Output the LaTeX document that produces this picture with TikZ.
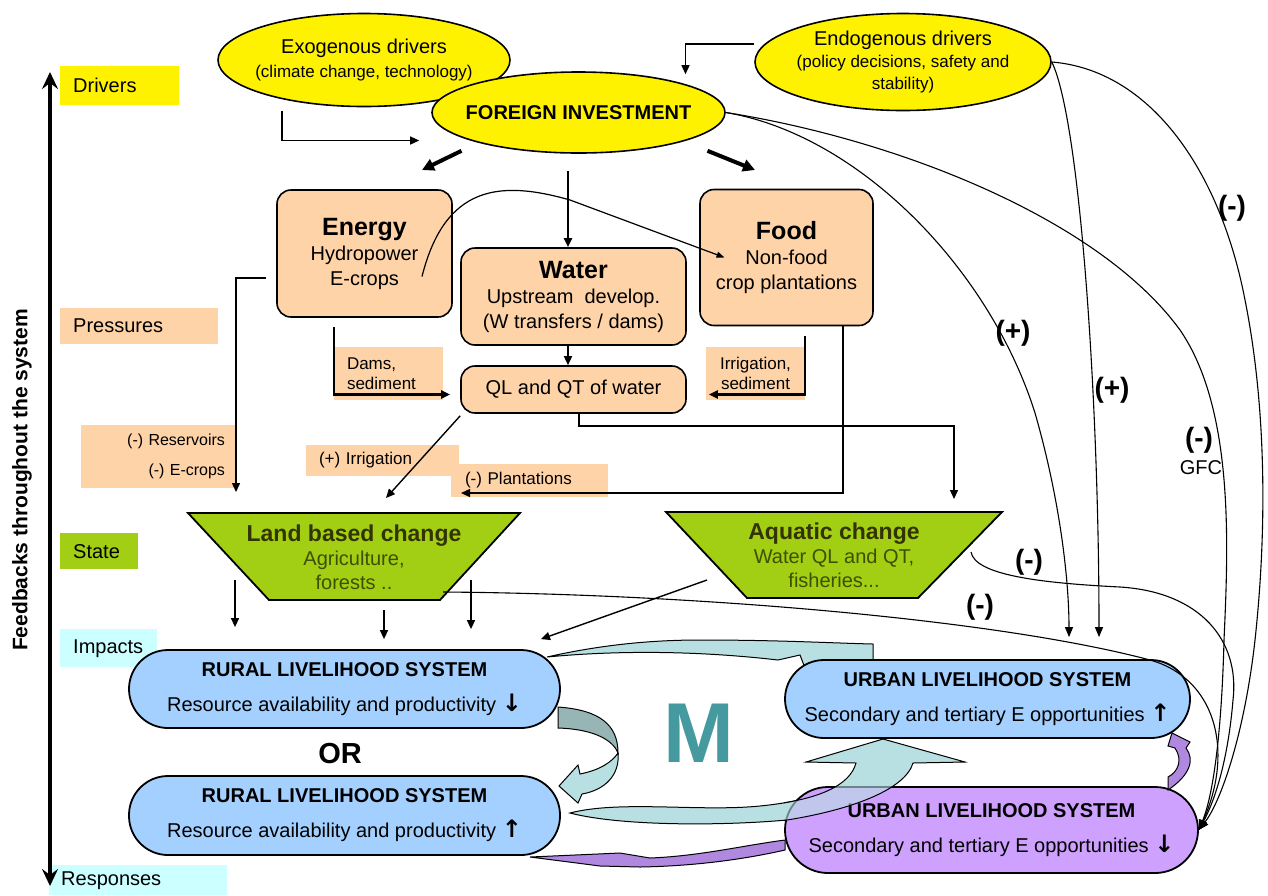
\documentclass[tikz,border=0pt]{standalone}
\usepackage{fontspec}
\setmainfont{Liberation Sans}
\newfontfamily\arrowfnt{DejaVu Sans}
\usetikzlibrary{shapes.geometric,arrows.meta}

\definecolor{peach}{HTML}{FFD3A8}
\definecolor{grass}{HTML}{A2CF14}
\definecolor{skyblue}{HTML}{A3D0FF}
\definecolor{lilac}{HTML}{CFA1FF}
\definecolor{paleteal}{HTML}{B8DFE1}
\definecolor{greyteal}{HTML}{97B5B5}
\definecolor{mteal}{HTML}{449A9E}
\definecolor{plum}{HTML}{B088E0}
\definecolor{paleaqua}{HTML}{CCFFFF}
\definecolor{darkolive}{HTML}{333300}
\definecolor{mossy}{HTML}{3D4F00}

\newcommand{\txtsize}[2]{\fontsize{#1}{#2}\selectfont}
\newcommand{\updown}[1]{{\arrowfnt\bfseries\txtsize{24}{24}#1}}
% outline of the big migration arrow (rural -> urban), used twice
\newcommand{\migpath}{(570,813) .. controls (620,800) and (700,812) .. (760,806)
  .. controls (820,800) and (850,785) .. (856,763) -- (806,762) -- (883,739)
  -- (965,762) -- (913,763) .. controls (905,790) and (850,810) .. (787,820)
  .. controls (720,826) and (620,826) .. (570,813) -- cycle}

\tikzset{
  lvl/.style={anchor=north west, inner xsep=13pt, inner ysep=0pt, align=left, font=\txtsize{20}{24}},
  drv/.style={ellipse, draw, line width=1.6pt, fill=yellow, inner xsep=-30pt, inner ysep=-10pt, align=center},
  pbox/.style={draw, line width=1.6pt, rounded corners=14pt, fill=peach, inner sep=0pt, align=center, font=\txtsize{20}{25}},
  tag/.style={fill=peach, inner xsep=13pt, inner ysep=0pt, font=\txtsize{17}{20}},
  chg/.style={draw, line width=1.8pt, fill=grass, line join=miter},
  chgtxt/.style={align=center, inner sep=0pt, text=mossy, font=\txtsize{20}{24}},
  pill/.style={draw, line width=1.8pt, align=center, inner sep=0pt, font=\txtsize{20}{35}},
  arr/.style={-{Triangle[length=9pt,width=8pt]}, line width=1.4pt},
  thk/.style={-{Triangle[length=12pt,width=12pt]}, line width=4pt},
  fbk/.style={-{Triangle[length=10pt,width=8pt]}, line width=1.1pt},
  blk/.style={draw, line width=1pt},
  sgn/.style={font=\bfseries\txtsize{28}{30}}
}

\begin{document}
\begin{tikzpicture}[x=1pt,y=-1pt]
\useasboundingbox (0,0) rectangle (1268,895);

% level tags down the left side
\node[lvl, fill=yellow, minimum height=39pt, text width=93pt] (drivers) at (60,66) {Drivers};
\node[lvl, fill=peach, minimum height=36pt, text width=132pt] (pressures) at (60,308) {Pressures};
\node[lvl, fill=grass, minimum height=36pt, text width=52pt] (state) at (60,533) {State};
\node[lvl, fill=paleaqua, minimum height=38pt, text width=71pt] (impacts) at (60,629) {Impacts};
\node[lvl, fill=paleaqua, minimum height=30pt, text width=154pt, inner xsep=12pt] (responses) at (49,865) {Responses};

% feedback axis
\coordinate (fbtop) at (50,72);
\coordinate (fbbot) at (50,886);
\draw[line width=4pt, {Stealth[length=17pt,width=16pt,inset=6pt]}-{Stealth[length=17pt,width=16pt,inset=6pt]}] (fbtop) -- (fbbot);
\node[rotate=90, font=\bfseries\txtsize{21}{24}] (fbtxt) at (22,480) {Feedbacks throughout the system};

% drivers
\node[drv, minimum width=292pt, minimum height=93pt, font=\txtsize{17}{24}] (exo) at (364,60)
  {{\txtsize{20}{24}Exogenous drivers}\\(climate change, technology)};
\node[drv, minimum width=296pt, minimum height=97pt, font=\txtsize{17}{22}] (endo) at (903,62)
  {{\txtsize{20}{22}Endogenous drivers}\\(policy decisions, safety and\\stability)};
\node[drv, minimum width=293pt, minimum height=81pt, font=\bfseries\txtsize{20}{24}] (fi) at (578.5,112.5) {FOREIGN INVESTMENT};

% pressures
\node[pbox, minimum width=175pt, minimum height=127pt] (energy) at (364.5,253.5)
  {{\bfseries\txtsize{25}{25}Energy}\\Hydropower\\E-crops};
\node[pbox, minimum width=225pt, minimum height=97pt] (water) at (573.5,296.5)
  {{\bfseries\txtsize{25}{25}Water}\\Upstream\ \ develop.\\(W transfers / dams)};
\node[pbox, minimum width=173pt, minimum height=136pt] (food) at (786.5,257.5)
  {{\bfseries\txtsize{25}{25}Food}\\Non-food\\crop plantations};
\node[pbox, minimum width=225pt, minimum height=47pt] (ql) at (573.5,389.5) {QL and QT of water};

% small pressure tags
\node[tag, minimum width=109pt, minimum height=53pt, text width=83pt, align=left] (dams) at (388.5,373.5) {Dams,\\sediment};
\node[tag, minimum width=99pt, minimum height=53pt, align=center] (irrsed) at (755.5,373.5) {Irrigation,\\sediment};
\node[tag, minimum width=154pt, minimum height=63pt, text width=134pt, inner xsep=10pt, align=right, font=\txtsize{16}{30}] (reserv) at (158,456.5) {(-) Reservoirs\\(-) E-crops};
\node[tag, minimum width=153pt, minimum height=31pt, text width=127pt, align=left] (irrig) at (382.5,460.5) {(+) Irrigation};
\node[tag, minimum width=157pt, minimum height=33pt, text width=129pt, inner xsep=14pt, align=left] (plant) at (529.5,480.5) {(-) Plantations};

% state: funnel shapes, text nodes carry the names
\draw[chg] (188,513) -- (520,513) -- (440,600) -- (269,600) -- cycle;
\node[chgtxt] (land) at (354,557)
  {{\bfseries\txtsize{23}{24}\color{darkolive}Land based change}\\Agriculture,\\forests ..};
\draw[chg] (666,512) -- (1002,512) -- (918,598) -- (747,598) -- cycle;
\node[chgtxt] (aquatic) at (834,555)
  {{\bfseries\txtsize{23}{24}\color{darkolive}Aquatic change}\\Water QL and QT,\\fisheries...};

% connectors between drivers and pressures
\coordinate (toenergy) at (422,170);
\coordinate (tofood) at (755,170);
\draw[arr] ([xshift=-82pt,yshift=-4pt]exo.south) |- ([xshift=-12pt,yshift=-28pt]fi.west);
\draw[arr] ([yshift=18pt]endo.west) -| ([xshift=107pt,yshift=-3pt]fi.north);
\draw[thk] ([xshift=-117pt,yshift=3pt]fi.south) -- (toenergy);
\draw[thk] ([xshift=129pt,yshift=3pt]fi.south) -- (tofood);
\draw[arr, line width=2.2pt] ([xshift=-10.5pt,yshift=-17pt]fi.south) -- ([xshift=-5.5pt]water.north);
\draw[-{Triangle[length=8pt,width=6pt]}, line width=1.2pt] ([xshift=57.5pt,yshift=-23pt]energy.center)
  .. controls (445,185) and (500,180) .. (570,200) -- ([xshift=-62pt]food.center);

% pressures to water quality and to the state
\coordinate (enland) at (236,492);
\coordinate (qlland) at (386,498);
\coordinate (qlaq) at (954,499);
\coordinate (plantin) at (461,493);
\draw[arr] ([xshift=-5.5pt]water.south) -- ([xshift=-5.5pt]ql.north);
\draw[arr, line width=2.2pt] ([xshift=-30.5pt,yshift=-9pt]energy.south) |- ([xshift=-10pt,yshift=-5pt]ql.west);
\draw[arr, line width=2.2pt] ([xshift=18.5pt,yshift=-10pt]food.south) |- ([xshift=22pt,yshift=-5pt]ql.east);
\draw[arr] ([xshift=-10pt,yshift=-24.5pt]energy.west) -| (enland);
\draw[arr] ([yshift=-2pt]ql.south west) -- (qlland);
\draw[arr] ([xshift=5.5pt]ql.south) -- ++(0,12) -| (qlaq);
\draw[arr] ([xshift=56.5pt]food.south) |- (plantin);

% migration arrows behind the livelihood systems
\draw[blk, fill=greyteal] (558,707) .. controls (600,710) and (618,725) .. (618,753)
  .. controls (612,738) and (590,729) .. (558,728) -- cycle;
\draw[blk, fill=paleteal] (618,753) .. controls (620,775) and (605,790) .. (582,794) -- (578,803)
  -- (559,786) -- (578,765) -- (580,774) .. controls (600,770) and (612,762) .. (618,753) -- cycle;
\draw[blk, fill=plum] (785,840) .. controls (740,846) and (700,856) .. (650,858) -- (620,853)
  -- (530,857) -- (600,866) -- (640,867) .. controls (700,866) and (750,858) .. (785,850) -- cycle;
\draw[blk, fill=paleteal] \migpath;
\draw[blk, fill=paleteal] (547,657) .. controls (600,645) and (650,640) .. (700,640)
  .. controls (780,640) and (830,643) .. (873,644) -- (873,672) -- (805,668) -- (800,655)
  -- (778,660) .. controls (700,651) and (620,650) .. (547,657) -- cycle;

% livelihood systems
\node[pill, fill=skyblue, rounded corners=39pt, minimum width=431pt, minimum height=78pt] (rural1) at (344.5,689)
  {{\bfseries RURAL LIVELIHOOD SYSTEM}\\Resource availability and productivity \updown{↓}};
\node[pill, fill=skyblue, rounded corners=39pt, minimum width=431pt, minimum height=79pt] (rural2) at (344.5,815.5)
  {{\bfseries RURAL LIVELIHOOD SYSTEM}\\Resource availability and productivity \updown{↑}};
\node[pill, fill=lilac, rounded corners=43pt, minimum width=413pt, minimum height=86pt] (urban2) at (991.5,830)
  {{\bfseries URBAN LIVELIHOOD SYSTEM}\\Secondary and tertiary E opportunities \updown{↓}};
\begin{scope}
  \clip (urban2.north west) rectangle (urban2.south east);
  \fill[paleteal, fill opacity=0.6] \migpath;
  \draw[line width=1pt] \migpath;
\end{scope}
\node[pill, fill=skyblue, rounded corners=39pt, minimum width=405pt, minimum height=78pt] (urban1) at (987.5,699)
  {{\bfseries URBAN LIVELIHOOD SYSTEM}\\Secondary and tertiary E opportunities \updown{↑}};
\draw[blk, fill=plum] (1168,790) .. controls (1190,775) and (1195,760) .. (1186,748) -- (1190,742)
  -- (1172,733) -- (1168,746) -- (1175,748) .. controls (1183,760) and (1178,772) .. (1168,777) -- cycle;

\node[font=\bfseries\txtsize{29}{30}] (orlbl) at (340,753.5) {OR};
\node[font=\bfseries\txtsize{85}{85}, text=mteal] (mig) at (698.5,733.5) {M};

% state to impacts
\draw[arr] ([xshift=-119pt,yshift=-23pt]land.center) -- ([xshift=-109.5pt,yshift=22pt]rural1.north);
\draw[arr] ([xshift=30pt,yshift=-53pt]land.center) -- ([xshift=39.5pt,yshift=10pt]rural1.north);
\draw[arr] ([xshift=117pt,yshift=-23pt]land.center) -- ([xshift=126.5pt,yshift=20pt]rural1.north);
\draw[arr] ([xshift=-127pt,yshift=-25pt]aquatic.center) -- ([xshift=196.5pt,yshift=10pt]rural1.north);

% feedbacks on the urban systems
\draw[fbk] (fi.east) .. controls (860,135) and (990,270) .. (1035,413)
  .. controls (1060,500) and (1069,580) .. ([xshift=81.5pt,yshift=22pt]urban1.north);
\draw[fbk] (endo.east) .. controls (1080,120) and (1099,400) .. ([xshift=111.5pt,yshift=22pt]urban1.north);
\draw[fbk] (fi.east) .. controls (900,140) and (1100,220) .. (1180,330)
  .. controls (1235,410) and (1228,550) .. (1224,640) .. controls (1222,720) and (1215,790) .. (urban2.east);
\draw[fbk] (endo.east) .. controls (1150,70) and (1220,170) .. (1245,300)
  .. controls (1265,400) and (1268,520) .. (1255,640) .. controls (1245,730) and (1222,800) .. (urban2.east);
\draw[fbk] ([xshift=137pt,yshift=3pt]aquatic.center) .. controls (975,575) and (1040,583) .. (1120,587)
  .. controls (1200,592) and (1240,640) .. (1233,700) .. controls (1228,760) and (1215,800) .. (urban2.east);
\draw[fbk] ([xshift=89pt,yshift=-35pt]land.center) .. controls (700,594) and (1000,620) .. (1150,660)
  .. controls (1215,678) and (1235,750) .. (urban2.east);

% signs on the feedbacks
\node[sgn] (signa) at (1013,333) {(+)};
\node[sgn] (signc) at (1112,390) {(+)};
\node[sgn] (signd) at (1232,208) {(-)};
\node[sgn] (signb) at (1199,440) {(-)};
\node[font=\txtsize{20}{22}] (gfc) at (1201,468) {GFC};
\node[sgn] (signaq) at (1029,562) {(-)};
\node[sgn] (signland) at (980,607) {(-)};

\end{tikzpicture}
\end{document}
